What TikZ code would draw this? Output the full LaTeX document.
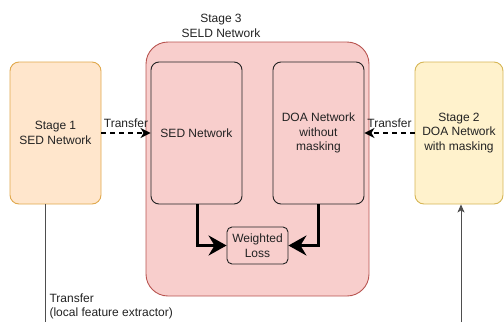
\documentclass[tikz,border=0pt]{standalone}
\usepackage{fontspec}
\setmainfont{Liberation Sans}
\usetikzlibrary{arrows.meta}
\definecolor{orangefill}{HTML}{FFE6CC}
\definecolor{orangeline}{HTML}{E0A84C}
\definecolor{yellowfill}{HTML}{FFF2CC}
\definecolor{yellowline}{HTML}{D6B656}
\definecolor{redfill}{HTML}{F8CECC}
\definecolor{redline}{HTML}{B85450}
\definecolor{darkline}{HTML}{222222}
\tikzset{
  stagebox/.style={draw, rounded corners=9pt, line width=0.9pt, align=center, inner sep=0pt},
  innerbox/.style={draw=darkline, fill=redfill, rounded corners=8pt, line width=0.9pt, align=center, inner sep=0pt},
  txt/.style={font=\fontsize{12}{14.5}\selectfont, text=darkline},
  transferarrow/.style={-{Stealth[length=10pt,width=10pt,inset=3pt]}, dashed, dash pattern=on 5pt off 4pt, line width=1.5pt},
  lossarrow/.style={-{Stealth[length=18pt,width=20pt,inset=6pt]}, line width=3pt},
  thinline/.style={draw=darkline!80, line width=0.9pt}
}
\begin{document}
\begin{tikzpicture}[x=1pt,y=-1pt]
\useasboundingbox (0,0) rectangle (504,322);

% Stage 3 container
\node[stagebox, draw=redline, fill=redfill, minimum width=223pt, minimum height=254pt, rounded corners=22pt]
  (seld) at (257.5,169) {};
\node[txt, align=center] (seldlabel) at (221,26) {Stage 3\\SELD Network};

% Inner networks and loss
\node[innerbox, txt, minimum width=91pt, minimum height=142pt] (sed) at (196.5,133) {SED Network};
\node[innerbox, txt, minimum width=91pt, minimum height=142pt] (doa) at (318.5,133) {DOA Network\\without\\masking};
\node[innerbox, txt, minimum width=61pt, minimum height=37pt, rounded corners=5pt] (loss) at (257.5,245.5) {Weighted\\Loss};

% Stage 1 and Stage 2
\node[stagebox, draw=orangeline, fill=orangefill, txt, minimum width=91pt, minimum height=142pt] (st1) at (55.5,133) {Stage 1\\SED Network};
\node[stagebox, draw=yellowline, fill=yellowfill, txt, minimum width=88pt, minimum height=142pt] (st2) at (459,133) {Stage 2\\DOA Network\\with masking};

% Transfer arrows
\draw[transferarrow] (st1.east) -- (sed.west) node[midway, above=1pt, txt] (t1) {Transfer};
\draw[transferarrow] (st2.west) -- (doa.east) node[midway, above=1pt, txt] (t2) {Transfer};

% Outputs combined into the weighted loss
\draw[lossarrow] (sed.south -| 197,0) |- (loss.west);
\draw[lossarrow] (doa.south -| 318,0) |- (loss.east);

% Feature extractor transfer from stage 1 to stage 2
\coordinate (outA) at (45,322);
\coordinate (outB) at (461,322);
\draw[thinline] (st1.south -| outA) -- (outA);
\draw[thinline, -{Stealth[length=8pt,width=7pt,inset=2pt]}] (outB) -- (st2.south -| outB);
\node[txt, anchor=north west, align=left] (tlabel) at (46,290) {Transfer\\(local feature extractor)};
\end{tikzpicture}
\end{document}
